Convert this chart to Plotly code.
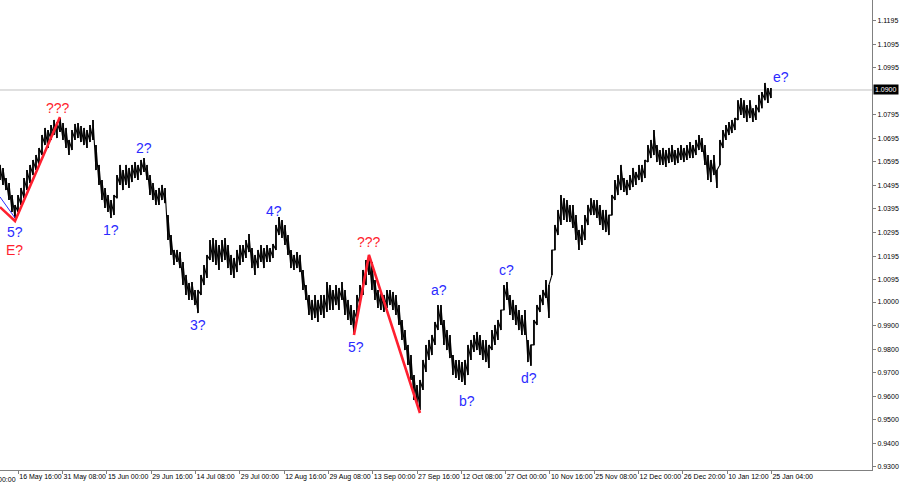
import plotly.graph_objects as go

# ---- price data: one high/low pair per column of ~4 bars (EURUSD H4) ----
highs = [
    1.0582, 1.0569, 1.0526, 1.0505, 1.0454, 1.0412, 1.0454, 1.0484, 1.0526, 1.0560,
    1.0582, 1.0603, 1.0624, 1.0654, 1.0709, 1.0739, 1.0730, 1.0751, 1.0773, 1.0764,
    1.0781, 1.0760, 1.0739, 1.0688, 1.0730, 1.0756, 1.0760, 1.0747, 1.0739, 1.0730,
    1.0751, 1.0773, 1.0666, 1.0582, 1.0518, 1.0484, 1.0454, 1.0433, 1.0454, 1.0539,
    1.0582, 1.0560, 1.0582, 1.0569, 1.0582, 1.0594, 1.0582, 1.0603, 1.0611, 1.0582,
    1.0539, 1.0505, 1.0475, 1.0484, 1.0497, 1.0484, 1.0369, 1.0284, 1.0221, 1.0221,
    1.0212, 1.0170, 1.0115, 1.0081, 1.0085, 1.0051, 1.0051, 1.0115, 1.0157, 1.0200,
    1.0263, 1.0272, 1.0263, 1.0242, 1.0263, 1.0272, 1.0242, 1.0200, 1.0187, 1.0221,
    1.0242, 1.0242, 1.0263, 1.0289, 1.0229, 1.0200, 1.0221, 1.0242, 1.0229, 1.0242,
    1.0229, 1.0246, 1.0327, 1.0361, 1.0348, 1.0327, 1.0284, 1.0221, 1.0200, 1.0212,
    1.0200, 1.0136, 1.0072, 1.0030, 1.0009, 1.0030, 1.0009, 1.0030, 1.0030, 1.0085,
    1.0072, 1.0051, 1.0072, 1.0060, 1.0085, 1.0051, 1.0009, 0.9987, 0.9966, 1.0030,
    1.0072, 1.0136, 1.0178, 1.0200, 1.0170, 1.0093, 1.0051, 1.0043, 1.0030, 1.0051,
    1.0051, 1.0043, 1.0030, 0.9987, 0.9924, 0.9881, 0.9818, 0.9775, 0.9690, 0.9648,
    0.9669, 0.9754, 0.9818, 0.9839, 0.9860, 0.9915, 0.9987, 0.9987, 0.9924, 0.9881,
    0.9860, 0.9775, 0.9754, 0.9754, 0.9745, 0.9754, 0.9818, 0.9839, 0.9860, 0.9873,
    0.9860, 0.9839, 0.9839, 0.9818, 0.9881, 0.9903, 0.9924, 0.9966, 1.0072, 1.0085,
    1.0030, 1.0009, 0.9987, 0.9966, 0.9945, 0.9966, 0.9839, 0.9818, 0.9924, 0.9987,
    1.0030, 1.0051, 1.0093, 1.0072, 1.0221, 1.0327, 1.0391, 1.0454, 1.0441, 1.0433,
    1.0412, 1.0412, 1.0369, 1.0306, 1.0327, 1.0369, 1.0412, 1.0441, 1.0433, 1.0433,
    1.0412, 1.0391, 1.0391, 1.0369, 1.0454, 1.0518, 1.0539, 1.0582, 1.0526, 1.0518,
    1.0539, 1.0569, 1.0552, 1.0582, 1.0582, 1.0603, 1.0666, 1.0688, 1.0730, 1.0666,
    1.0645, 1.0654, 1.0645, 1.0654, 1.0666, 1.0645, 1.0654, 1.0666, 1.0654, 1.0666,
    1.0679, 1.0666, 1.0688, 1.0709, 1.0696, 1.0666, 1.0624, 1.0603, 1.0624, 1.0560,
    1.0688, 1.0730, 1.0751, 1.0764, 1.0773, 1.0781, 1.0857, 1.0866, 1.0857, 1.0836,
    1.0857, 1.0823, 1.0836, 1.0879, 1.0891, 1.0930, 1.0908, 1.0908,
]
lows = [
    1.0518, 1.0497, 1.0475, 1.0433, 1.0382, 1.0357, 1.0382, 1.0412, 1.0441, 1.0475,
    1.0505, 1.0539, 1.0560, 1.0582, 1.0624, 1.0666, 1.0654, 1.0688, 1.0709, 1.0696,
    1.0722, 1.0688, 1.0654, 1.0624, 1.0645, 1.0688, 1.0696, 1.0679, 1.0666, 1.0654,
    1.0679, 1.0688, 1.0560, 1.0497, 1.0433, 1.0399, 1.0382, 1.0357, 1.0369, 1.0441,
    1.0497, 1.0475, 1.0497, 1.0484, 1.0509, 1.0526, 1.0518, 1.0539, 1.0552, 1.0518,
    1.0454, 1.0433, 1.0412, 1.0412, 1.0433, 1.0420, 1.0263, 1.0200, 1.0157, 1.0170,
    1.0144, 1.0072, 1.0030, 1.0009, 1.0009, 0.9987, 0.9953, 1.0030, 1.0072, 1.0102,
    1.0178, 1.0170, 1.0157, 1.0136, 1.0170, 1.0178, 1.0144, 1.0115, 1.0102, 1.0127,
    1.0157, 1.0170, 1.0187, 1.0212, 1.0144, 1.0115, 1.0144, 1.0170, 1.0144, 1.0170,
    1.0170, 1.0187, 1.0221, 1.0284, 1.0272, 1.0242, 1.0200, 1.0144, 1.0136, 1.0144,
    1.0127, 1.0051, 1.0009, 0.9945, 0.9924, 0.9932, 0.9915, 0.9945, 0.9932, 0.9958,
    0.9966, 0.9966, 0.9987, 0.9966, 1.0009, 0.9945, 0.9924, 0.9903, 0.9869, 0.9924,
    0.9987, 1.0030, 1.0072, 1.0115, 1.0051, 1.0009, 0.9975, 0.9966, 0.9958, 0.9975,
    0.9987, 0.9966, 0.9945, 0.9903, 0.9839, 0.9796, 0.9733, 0.9669, 0.9584, 0.9563,
    0.9542, 0.9627, 0.9703, 0.9754, 0.9775, 0.9818, 0.9881, 0.9903, 0.9818, 0.9796,
    0.9762, 0.9690, 0.9678, 0.9669, 0.9661, 0.9648, 0.9690, 0.9754, 0.9788, 0.9796,
    0.9775, 0.9754, 0.9745, 0.9720, 0.9796, 0.9818, 0.9839, 0.9881, 0.9966, 1.0009,
    0.9945, 0.9924, 0.9903, 0.9881, 0.9860, 0.9860, 0.9745, 0.9729, 0.9818, 0.9903,
    0.9958, 0.9987, 1.0017, 0.9932, 1.0115, 1.0221, 1.0284, 1.0327, 1.0348, 1.0340,
    1.0340, 1.0314, 1.0263, 1.0221, 1.0242, 1.0263, 1.0327, 1.0369, 1.0369, 1.0357,
    1.0327, 1.0306, 1.0297, 1.0284, 1.0369, 1.0433, 1.0454, 1.0475, 1.0467, 1.0454,
    1.0475, 1.0488, 1.0497, 1.0518, 1.0509, 1.0526, 1.0594, 1.0611, 1.0624, 1.0594,
    1.0582, 1.0582, 1.0573, 1.0590, 1.0594, 1.0582, 1.0590, 1.0603, 1.0594, 1.0603,
    1.0611, 1.0611, 1.0624, 1.0645, 1.0637, 1.0582, 1.0518, 1.0509, 1.0539, 1.0484,
    1.0582, 1.0654, 1.0688, 1.0709, 1.0717, 1.0730, 1.0773, 1.0794, 1.0781, 1.0764,
    1.0781, 1.0764, 1.0773, 1.0806, 1.0823, 1.0857, 1.0845, 1.0866,
]

# ---- wave markup (column index, price) ----
red_wave_idx = [0, 5, 20]
red_wave_price = [1.0403, 1.0344, 1.0785]
blue_wave_idx = [0, 5]
blue_wave_price = [1.0446, 1.0357]
red_wave2_idx = [118, 123, 140]
red_wave2_price = [0.9860, 1.0200, 0.9529]

label_text = ["???", "5?", "E?", "1?", "2?", "3?", "4?", "???", "5?", "a?", "b?", "c?", "d?", "e?"]
label_idx = [19.3, 5, 4.7, 37, 48, 66, 91.3, 123, 118.7, 146.3, 155.7, 168.7, 176.3, 260.3]
label_price = [1.0823, 1.0297, 1.0221, 1.0306, 1.0654, 0.9903, 1.0386, 1.0255, 0.9809,
               1.0051, 0.9580, 1.0136, 0.9678, 1.0955]
label_color = ["red", "blue", "red", "blue", "blue", "blue", "blue", "red", "blue",
               "blue", "blue", "blue", "blue", "blue"]

current_price = 1.0900
price_ticks = [0.93, 0.94, 0.95, 0.96, 0.97, 0.98, 0.99, 1.00, 1.0095, 1.0195, 1.0295,
               1.0395, 1.0495, 1.0595, 1.0695, 1.0795, 1.0995, 1.1095, 1.1195]
time_labels = ["16 May 16:00", "31 May 08:00", "15 Jun 00:00", "29 Jun 16:00", "14 Jul 08:00",
               "29 Jul 00:00", "12 Aug 16:00", "29 Aug 08:00", "13 Sep 00:00", "27 Sep 16:00",
               "12 Oct 08:00", "27 Oct 00:00", "10 Nov 16:00", "25 Nov 08:00", "12 Dec 00:00",
               "26 Dec 20:00", "10 Jan 12:00", "25 Jan 04:00"]
first_time_label = "2 May 00:00"

# ---- layout parameters ----
X_MAX = 290.7
Y_RANGE = [0.9287, 1.1282]
FIRST_TICK = 6.1
TICK_STEP = 14.77
RED = "#ff1f2f"
BLUE = "#2b2bff"
AXIS_FONT = dict(family="Liberation Sans, Arial, sans-serif", size=7, color="black")

fig = go.Figure()

# vertical high-low strokes per column
sx, sy = [], []
for i, (h, l) in enumerate(zip(highs, lows)):
    sx += [i, i, None]
    sy += [l, h, None]
fig.add_trace(go.Scatter(x=sx, y=sy, mode="lines", line=dict(color="black", width=1.6),
                         hoverinfo="skip"))
# connecting stroke low -> high between columns
zx, zy = [], []
for i, (h, l) in enumerate(zip(highs, lows)):
    zx += [i, i]
    zy += [l, h]
fig.add_trace(go.Scatter(x=zx, y=zy, mode="lines", line=dict(color="black", width=1.1),
                         hoverinfo="skip"))

fig.add_trace(go.Scatter(x=blue_wave_idx, y=blue_wave_price, mode="lines",
                         line=dict(color=BLUE, width=1)))
fig.add_trace(go.Scatter(x=red_wave_idx, y=red_wave_price, mode="lines",
                         line=dict(color=RED, width=2.6)))
fig.add_trace(go.Scatter(x=red_wave2_idx, y=red_wave2_price, mode="lines",
                         line=dict(color=RED, width=2.6)))

# current price line
fig.add_shape(type="line", xref="paper", x0=0, x1=1, yref="y", y0=current_price, y1=current_price,
              line=dict(color="#c0c0c0", width=1), layer="below")

annotations = []
for t, xi, p, c in zip(label_text, label_idx, label_price, label_color):
    annotations.append(dict(x=xi, y=p, xref="x", yref="y", text=t, showarrow=False,
                            font=dict(family="Liberation Sans, Arial, sans-serif", size=14,
                                      color=RED if c == "red" else BLUE)))
annotations.append(dict(x=1, xref="paper", xanchor="left", xshift=1, y=current_price, yref="y",
                        text=f"{current_price:.4f}", showarrow=False, bgcolor="black",
                        font=dict(family="Liberation Sans, Arial, sans-serif", size=7, color="white"),
                        borderpad=1))
annotations.append(dict(x=(FIRST_TICK - TICK_STEP) / X_MAX, xref="paper", xanchor="left", xshift=1,
                        y=0, yref="paper", yanchor="top", yshift=-4, text=first_time_label,
                        showarrow=False, font=AXIS_FONT))

tick_pos = [FIRST_TICK + TICK_STEP * k for k in range(len(time_labels))]

fig.update_layout(
    width=900, height=485,
    margin=dict(l=0, r=28, t=0, b=15),
    paper_bgcolor="white", plot_bgcolor="white",
    showlegend=False,
    annotations=annotations,
)
fig.update_xaxes(range=[0, X_MAX], tickvals=tick_pos, ticktext=time_labels, tickangle=0,
                 automargin=False,
                 ticks="outside", ticklen=3, tickcolor="#808080", tickwidth=1,
                 ticklabelposition="outside right", tickfont=AXIS_FONT,
                 showgrid=False, zeroline=False, showline=True, linecolor="#808080", linewidth=1)
fig.update_yaxes(range=Y_RANGE, side="right", tickvals=price_ticks, automargin=False,
                 ticktext=[f"{v:.4f}" for v in price_ticks],
                 ticks="outside", ticklen=3, tickcolor="#808080", tickwidth=1, tickfont=AXIS_FONT,
                 showgrid=False, zeroline=False, showline=True, linecolor="#808080", linewidth=1)

fig.write_html("out.html", config={"displayModeBar": False},
               post_script="document.body.style.margin='0';document.body.style.overflow='hidden';")
